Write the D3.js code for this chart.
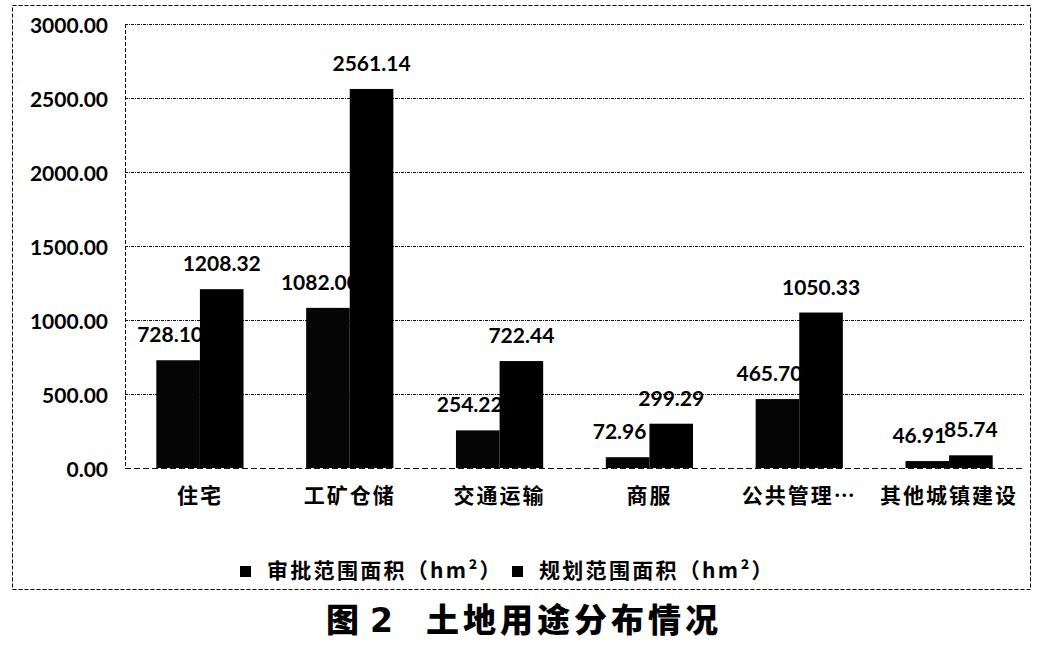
<!DOCTYPE html>
<html><head><meta charset="utf-8">
<script src="https://cdn.jsdelivr.net/npm/d3@7"></script>
<style>
body{margin:0;background:#fff;}
svg{display:block;}
</style></head>
<body>
<svg id="chart" width="1042" height="655"></svg>
<script>
const categories = ["住宅","工矿仓储","交通运输","商服","公共管理…","其他城镇建设"];
const seriesNames = ["审批范围面积（hm²）","规划范围面积（hm²）"];
const approved = [728.10,1082.00,254.22,72.96,465.70,46.91];
const planned = [1208.32,2561.14,722.44,299.29,1050.33,85.74];
const yTicks = [0,500,1000,1500,2000,2500,3000];
const title = ["图","2","土地用途分布情况"];

const svg = d3.select("#chart");
const m = {left:125, right:1024, top:24, bottom:468};
const numFont = "Lato, 'Open Sans', sans-serif";
const cjkFont = "'Noto Sans CJK SC', sans-serif";

// outer border
svg.append("rect").attr("x",12.5).attr("y",5.5).attr("width",1018).attr("height",584)
  .attr("fill","none").attr("stroke","#000").attr("stroke-width",1).attr("stroke-dasharray","4,2");

const y = d3.scaleLinear().domain([0,3000]).range([m.bottom,m.top]);
const x0 = d3.scaleBand().domain(categories).range([m.left,m.right]).paddingInner(0).paddingOuter(0);
const groupW = x0.bandwidth()*0.582;
const x1 = d3.scaleBand().domain([0,1]).range([0,groupW]);

// gridlines
svg.append("g").selectAll("line").data(yTicks).join("line")
  .attr("x1",m.left).attr("x2",m.right)
  .attr("y1",d=>y(d)+0.5).attr("y2",d=>y(d)+0.5)
  .attr("stroke","#111").attr("stroke-width",1)
  .attr("stroke-dasharray",d=>d===0?"6,3":"3,1,1,1");

// left axis line
svg.append("line").attr("x1",m.left+0.5).attr("x2",m.left+0.5).attr("y1",m.top).attr("y2",m.bottom)
  .attr("stroke","#111").attr("stroke-dasharray","4,2");

// y labels via axis
const yAxis = d3.axisLeft(y).tickValues(yTicks).tickFormat(d3.format(".2f")).tickSize(0).tickPadding(17);
const ya = svg.append("g").attr("transform",`translate(${m.left},0)`).call(yAxis);
ya.select(".domain").remove();
ya.selectAll("text").attr("font-family",numFont).attr("font-weight",700).attr("font-size",21).attr("fill","#000").attr("dy","0.42em");

const groups = categories.map((c,i)=>({c, v:[approved[i],planned[i]]}));
const gx = c => x0(c) + (x0.bandwidth()-groupW)/2;

[0,1].forEach(s=>{
  svg.append("g").selectAll("rect").data(groups).join("rect")
    .attr("x",d=>gx(d.c)+x1(s)).attr("width",x1.bandwidth())
    .attr("y",d=>y(d.v[s])).attr("height",d=>y(0)-y(d.v[s]))
    .attr("fill", s===0 ? "#050505" : "#000");
  svg.append("g").selectAll("text").data(groups).join("text")
    .attr("x",d=>gx(d.c)+x1(s)+x1.bandwidth()/2 + (s===0?-8:0))
    .attr("y",d=>y(d.v[s])-18)
    .attr("text-anchor","middle")
    .attr("font-family",numFont).attr("font-weight",700).attr("font-size",21).attr("fill","#000")
    .text(d=>d.v[s].toFixed(2));
});

// category labels
const xAxis = d3.axisBottom(x0).tickSize(0).tickPadding(20);
const xa = svg.append("g").attr("transform",`translate(0,${m.bottom})`).call(xAxis);
xa.select(".domain").remove();
xa.selectAll("text").attr("font-family",cjkFont).attr("font-weight",700).attr("font-size",21)
  .attr("letter-spacing","2px").attr("fill","#000");

// legend
const legX = [240,512];
seriesNames.forEach((n,i)=>{
  svg.append("rect").attr("x",legX[i]).attr("y",566).attr("width",11).attr("height",11).attr("fill","#000");
  svg.append("text").attr("x",legX[i]+27).attr("y",571).attr("dy","0.35em")
    .attr("font-family",cjkFont).attr("font-weight",700).attr("font-size",21).attr("letter-spacing","2.3px")
    .attr("fill","#000").text(n);
});

// title
const tt = svg.append("text").attr("y",620).attr("dy","0.35em")
  .attr("font-family",cjkFont).attr("font-weight",900).attr("font-size",33).attr("fill","#000");
tt.append("tspan").attr("x",326).text(title[0]);
tt.append("tspan").attr("x",370).attr("font-family","'DejaVu Sans', sans-serif").attr("font-weight",700).text(title[1]);
tt.append("tspan").attr("x",426).attr("letter-spacing","4px").text(title[2]);
</script>
</body></html>
